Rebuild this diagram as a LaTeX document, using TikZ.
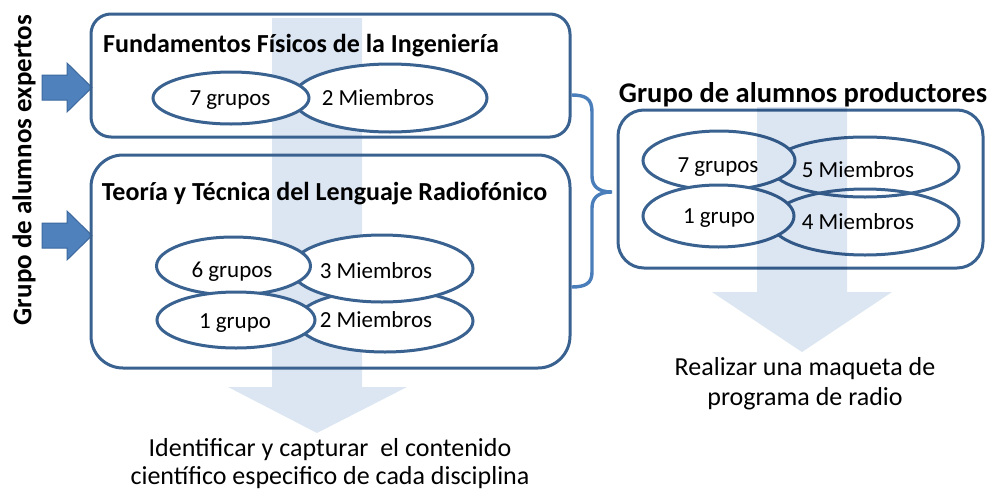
\documentclass[tikz,border=0pt]{standalone}
\usepackage{fontspec}
\setmainfont{Carlito}
\usetikzlibrary{shapes.geometric}
\definecolor{lineblue}{RGB}{58,98,144}
\definecolor{bracecol}{RGB}{74,126,187}
\definecolor{arrowfill}{RGB}{79,129,189}
\definecolor{arrowline}{RGB}{60,104,158}
\definecolor{paleblue}{RGB}{220,230,242}
\begin{document}
\begin{tikzpicture}[x=1pt,y=-1pt,
  outl/.style={draw=lineblue, line width=3pt},
  boxstyle/.style={outl, rectangle, inner sep=0pt},
  ellf/.style={ellipse, outl, fill=white, inner sep=0pt},
  ello/.style={ellipse, outl, inner sep=0pt},
  lbl/.style={anchor=base, inner sep=0pt, font=\fontsize{23}{27}\selectfont},
  body/.style={anchor=base, inner sep=0pt, font=\fontsize{26}{28}\selectfont},
  ttl/.style={anchor=base, inner sep=0pt, font=\bfseries\fontsize{26}{30}\selectfont},
  bigttl/.style={anchor=base, inner sep=0pt, font=\bfseries\fontsize{28.5}{32}\selectfont},
  blockarrow/.style={fill=arrowfill, draw=arrowline, line width=1pt},
  bracestyle/.style={draw=bracecol, line width=3.4pt}
]
\useasboundingbox (0,0) rectangle (991,493);

% pale background arrow (left)
\fill[paleblue] (272,18) -- (362,18) -- (362,387) -- (407,387) -- (317,433) -- (228,387) -- (272,387) -- cycle;

% vertical label
\node[rotate=90, inner sep=0pt, font=\bfseries\fontsize{27}{30}\selectfont] (vt) at (24,170) {Grupo de alumnos expertos};

% block arrows
\fill[blockarrow] (42,75) -- (67,75) -- (67,63) -- (92,87.5) -- (67,112) -- (67,100) -- (42,100) -- cycle;
\fill[blockarrow] (42,223) -- (67,223) -- (67,211) -- (92,235.5) -- (67,260) -- (67,248) -- (42,248) -- cycle;

% boxes
\node[boxstyle, rounded corners=20pt, minimum width=479pt, minimum height=123pt] (box1) at (330.5,75.5) {};
\node[boxstyle, rounded corners=32pt, minimum width=479pt, minimum height=213pt] (box2) at (330.5,261.5) {};
\node[boxstyle, rounded corners=26pt, minimum width=365pt, minimum height=158pt] (box3) at (800.5,189) {};

% titles
\node[ttl] (t1) at (301,52) {Fundamentos Físicos de la Ingeniería};
\node[ttl] (t2) at (324.5,200) {Teoría y Técnica del Lenguaje Radiofónico};
\node[bigttl] (t3) at (803,102) {Grupo de alumnos productores};

% box 1 ellipses
\node[ellf, minimum width=194pt, minimum height=68pt] (e1b) at (390,98) {};
\node[ellf, minimum width=156pt, minimum height=52pt] (e1a) at (231,98) {};
\node[lbl] (l1a) at (230,105) {7 grupos};
\node[lbl] (l1b) at (378,105) {2 Miembros};

% box 2 ellipses
\node[ellf, minimum width=176pt, minimum height=62pt] (e2d) at (385,321) {};
\node[ellf, minimum width=182pt, minimum height=67pt] (e2c) at (382,268.5) {};
\node[ellf, minimum width=154pt, minimum height=58pt] (e2a) at (233.5,266) {};
\node[ellf, minimum width=158pt, minimum height=56pt] (e2b) at (236,320) {};
\node[lbl] (l2a) at (232,277) {6 grupos};
\node[lbl] (l2c) at (376,278) {3 Miembros};
\node[lbl] (l2b) at (235,328) {1 grupo};
\node[lbl] (l2d) at (376,327) {2 Miembros};

% right box ellipses
\node[ellf, minimum width=188pt, minimum height=60pt] (r5) at (865,167) {};
\node[ello, minimum width=188pt, minimum height=66pt] (r4) at (865,222) {};
\node[ellf, minimum width=152pt, minimum height=59pt] (r7) at (719,160.5) {};
\node[ellf, minimum width=151pt, minimum height=62pt] (r1) at (718.5,216) {};
\node[lbl] (lr7) at (718,172) {7 grupos};
\node[lbl] (lr5) at (858,177) {5 Miembros};
\node[lbl] (lr1) at (719,223) {1 grupo};
\node[lbl] (lr4) at (858,229) {4 Miembros};

% pale arrow (right), multiplied over the group
\begin{scope}[blend mode=multiply]
\fill[paleblue] (757,107) -- (847,107) -- (847,292) -- (892,292) -- (802,352) -- (712,292) -- (757,292) -- cycle;
\end{scope}

% brace
\coordinate (bt) at (box1.east |- 0,95);
\coordinate (bb) at (box2.east |- 0,287);
\coordinate (btip) at (612,192);
\draw[bracestyle] (bt) .. controls (586,95) and (592,99) .. (592,112) -- (592,176)
  .. controls (592,186) and (598,192) .. (btip)
  .. controls (598,192) and (592,198) .. (592,208) -- (592,272)
  .. controls (592,283) and (586,287) .. (bb);

% bottom texts
\node[body] (d1) at (330,456) {Identificar y capturar\ \ el contenido};
\node[body] (d2) at (330,484) {científico especifico de cada disciplina};
\node[body] (d3) at (805,375) {Realizar una maqueta de};
\node[body] (d4) at (805,405) {programa de radio};
\end{tikzpicture}
\end{document}
